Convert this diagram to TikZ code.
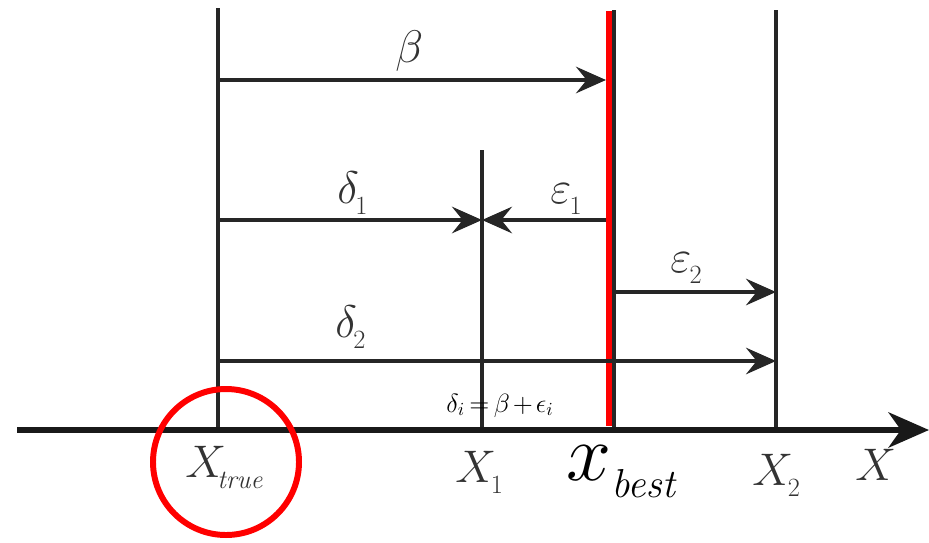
\RequirePackage{fix-cm}
\documentclass[tikz,border=0pt]{standalone}
\usetikzlibrary{arrows.meta}
\newcommand{\lsub}[2][0pt]{\kern#1\raisebox{-6.5pt}{\fontsize{15pt}{15pt}\selectfont #2}}
\newcommand{\bestsub}{\raisebox{-10pt}{\fontsize{23pt}{23pt}\selectfont$\mathit{best}$}}
\begin{document}
\begin{tikzpicture}[x=0.02cm,y=-0.02cm,
  vline/.style={line width=2.2pt, black!85},
  darrow/.style={line width=2.6pt, black!85, -{Stealth[length=17pt,width=15pt,inset=6pt]}},
  lbl/.style={anchor=base west, inner sep=0pt, font=\fontsize{26pt}{26pt}\selectfont, text=black!80},
  txtplain/.style={anchor=base west, inner sep=0pt, text=black},
]
\useasboundingbox (0,0) rectangle (929,542);
% line ends
\coordinate (t0) at (218,8);   \coordinate (b0) at (218,430);
\coordinate (t1) at (482,150); \coordinate (b1) at (482,430);
\coordinate (tb) at (614,10);  \coordinate (bb) at (614,430);
\coordinate (tr) at (609,11);  \coordinate (br) at (609,426);
\coordinate (t2) at (776,10);  \coordinate (b2) at (776,430);
\coordinate (ax0) at (17,430); \coordinate (ax1) at (929,430);
% arrow ends
\coordinate (betaS) at (218,80);  \coordinate (betaE) at (606,80);
\coordinate (d1S) at (218,220);   \coordinate (d1E) at (482,220);
\coordinate (e1S) at (606,220);   \coordinate (e1E) at (482,220);
\coordinate (e2S) at (614,292);   \coordinate (e2E) at (776,292);
\coordinate (d2S) at (218,361);   \coordinate (d2E) at (776,361);
% vertical lines
\draw[vline] (t0) -- (b0);
\draw[vline] (t1) -- (b1);
\draw[vline] (tb) -- (bb);
\draw[vline] (t2) -- (b2);
\draw[line width=3.4pt, red] (tr) -- (br);
% axis
\draw[line width=3.6pt, black!90, -{Stealth[length=23pt,width=20pt,inset=7pt]}] (ax0) -- (ax1);
% arrows
\draw[darrow] (betaS) -- (betaE);
\draw[darrow] (d1S) -- (d1E);
\draw[darrow] (e1S) -- (e1E);
\draw[darrow] (e2S) -- (e2E);
\draw[darrow] (d2S) -- (d2E);
% labels
\node[lbl] (lbeta) at (395,62) {$\beta$};
\node[lbl] (ld1) at (337,203) {$\delta$\lsub[-2pt]{1}};
\node[lbl] (le1) at (550,203) {$\varepsilon$\lsub[-1pt]{1}};
\node[lbl] (le2) at (670,272) {$\varepsilon$\lsub[-1pt]{2}};
\node[lbl] (ld2) at (335,337) {$\delta$\lsub[-2pt]{2}};
\node[lbl] (lxt) at (185,477) {$X$\lsub[-5pt]{$\mathit{true}$}};
\node[lbl] (lx1) at (455,482) {$X$\lsub[-3pt]{1}};
\node[lbl] (lx2) at (752,485) {$X$\lsub[-3pt]{2}};
\node[lbl] (lx) at (855,480) {$X$};
\node[txtplain, font=\fontsize{46pt}{46pt}\selectfont] (lxb) at (566,480) {$x$\bestsub};
\node[txtplain, font=\fontsize{15pt}{15pt}\selectfont] (frm) at (446,412)
  {$\medmuskip=2mu\thickmuskip=3mu\delta_i = \beta + \epsilon_i$};
% red circle
\coordinate (cc) at (226,462);
\draw[line width=3.4pt, red] (cc) circle[radius=73];
\end{tikzpicture}
\end{document}
